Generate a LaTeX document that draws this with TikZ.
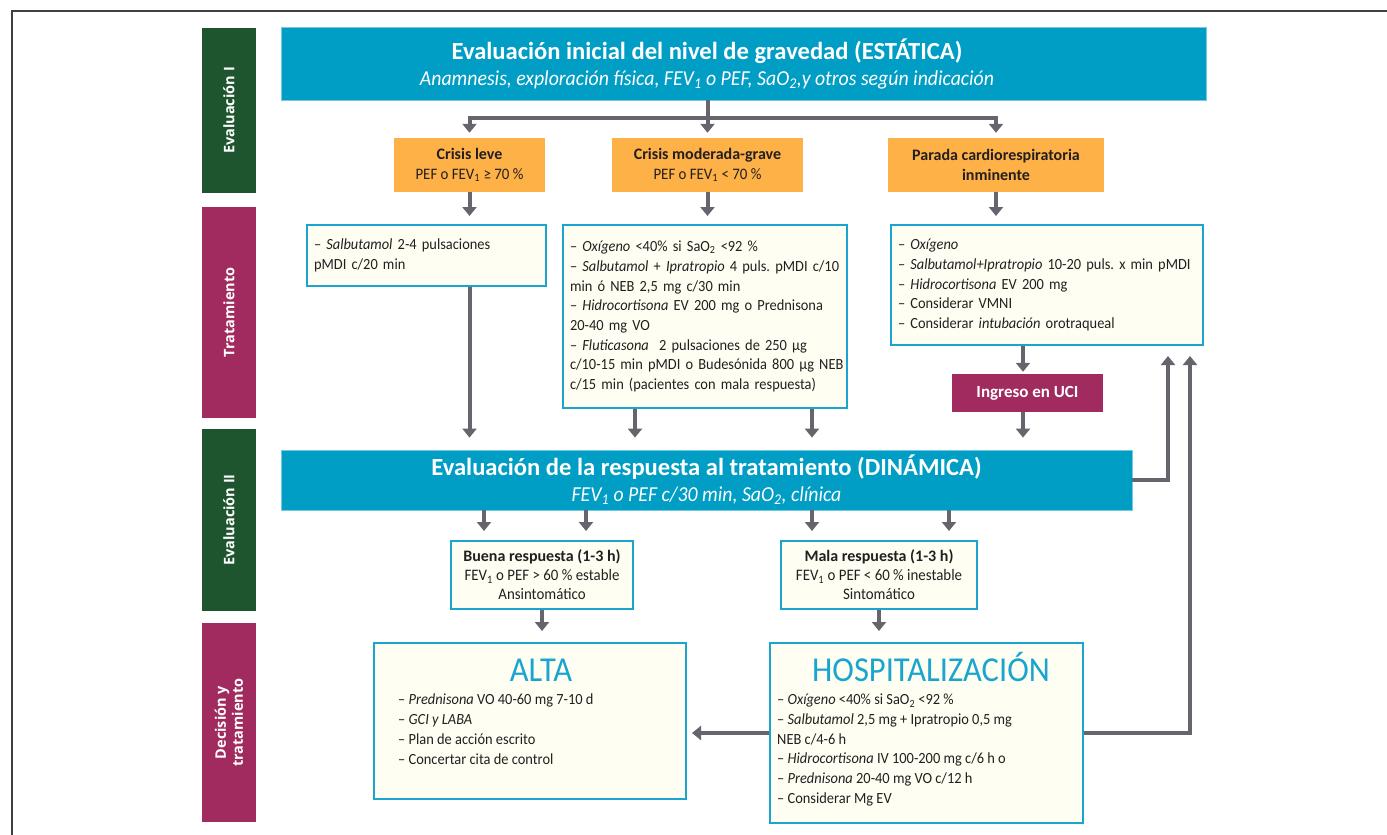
\documentclass[tikz,border=0pt]{standalone}
\usepackage{fontspec}
\setmainfont{Carlito}[FakeStretch=0.93, BoldFeatures={FakeStretch=1.0}]
\newfontfamily\barfont{Open Sans}
\usetikzlibrary{arrows.meta}

\definecolor{evalblue}{HTML}{009DC4}
\definecolor{evalgreen}{HTML}{1F552E}
\definecolor{tratred}{HTML}{A12A5E}
\definecolor{crisisorange}{HTML}{FDB147}
\definecolor{arrowgray}{HTML}{67646E}
\definecolor{boxblue}{HTML}{1AA5D0}
\definecolor{boxfill}{HTML}{FFFEF2}
\definecolor{textoscuro}{HTML}{231F20}

\newcommand{\sub}[1]{\textsubscript{#1}}
\newcommand{\margenlista}{\leftskip=7pt\rightskip=-12pt plus 2em\relax}

\tikzset{
  barra/.style={rectangle, rotate=90, minimum height=54pt, inner sep=0pt, align=center,
    text=white, font=\barfont\bfseries\fontsize{14.5}{17}\selectfont},
  cabecera/.style={rectangle, fill=evalblue, draw=evalblue!55, line width=0.8pt,
    text=white, align=center, inner sep=0pt, font=\itshape\fontsize{21.3}{26}\selectfont},
  crisis/.style={rectangle, fill=crisisorange, align=center, inner sep=0pt, minimum height=54pt,
    font=\fontsize{16}{19.5}\selectfont},
  caja/.style={rectangle, draw=boxblue, fill=boxfill, line width=2pt, inner xsep=7pt},
  cajalista/.style={caja, inner xsep=0pt, align=left, execute at begin node=\margenlista},
  titulo/.style={text=boxblue, font=\fontsize{35}{35}\selectfont, inner sep=0pt, anchor=base},
  lista/.style={align=left, inner sep=0pt},
  linea/.style={draw=arrowgray, line width=4pt},
  flecha/.style={linea, -{Triangle[width=14pt,length=9pt]}},
  marco/.style={draw=black!75, line width=1.5pt},
}

\begin{document}
\frenchspacing
\begin{tikzpicture}[x=1pt, y=-1pt, text=textoscuro, font=\fontsize{15.5}{19.7}\selectfont]
  \useasboundingbox (0,0) rectangle (1387,835);
  % Marco
  \draw[marco] (12,835) -- (12,11) -- (1387,11);
  % Barras laterales
  \node[barra, fill=evalgreen, minimum width=165pt] (ev1) at (229,110.5) {Evaluación I};
  \node[barra, fill=tratred, minimum width=211pt] (trat1) at (229,312.5) {Tratamiento};
  \node[barra, fill=evalgreen, minimum width=182pt] (ev2) at (229,520) {Evaluación II};
  \node[barra, fill=tratred, minimum width=199pt] (dec) at (229,722.5) {Decisión y\\tratamiento};
  % Evaluación inicial
  \node[cabecera, minimum width=925pt, minimum height=73pt] (ini) at (743.5,63.5) {};
  \node[cabecera, draw=none, fill=none] (iniT) at (707,64)
    {{\upshape\bfseries\fontsize{24.6}{26}\selectfont Evaluación inicial del nivel de gravedad (ESTÁTICA)}\\
     Anamnesis, exploración física, FEV\sub{1} o PEF, SaO\sub{2},y otros según indicación};
  % Nivel de gravedad
  \node[crisis, minimum width=151pt] (leve) at (469.5,165) {\textbf{Crisis leve}\\PEF o FEV\sub{1} ≥ 70 \%};
  \node[crisis, minimum width=191pt] (moderada) at (707.5,165) {\textbf{Crisis moderada-grave}\\PEF o FEV\sub{1} < 70 \%};
  \node[crisis, minimum width=216pt] (parada) at (996,165) {\textbf{Parada cardiorespiratoria}\\\textbf{inminente}};
  % Tratamiento
  \node[cajalista, text width=239pt, minimum height=61pt] (t1) at (426.5,255.5)
    {– \textit{Salbutamol} 2-4 pulsaciones\\pMDI c/20 min};
  \node[cajalista, text width=284pt, minimum height=183pt] (t2) at (705,316.5)
    {– \textit{Oxígeno} <40\% si SaO\sub{2} <92 \%\\
     – \textit{Salbutamol} + \textit{Ipratropio} 4 puls. pMDI c/10\\
     min ó NEB 2,5 mg c/30 min\\
     – \textit{Hidrocortisona} EV 200 mg o Prednisona\\
     20-40 mg VO\\
     – \textit{Fluticasona}\ \ 2 pulsaciones de 250 µg\\
     c/10-15 min pMDI o Budesónida 800 µg NEB\\
     c/15 min (pacientes con mala respuesta)};
  \node[cajalista, text width=312pt, minimum height=120pt] (t3) at (1047,285)
    {– \textit{Oxígeno}\\
     – \textit{Salbutamol+Ipratropio} 10-20 puls. x min pMDI\\
     – \textit{Hidrocortisona} EV 200 mg\\
     – Considerar VMNI\\
     – Considerar \textit{intubación} orotraqueal};
  \node[crisis, fill=tratred, text=white, minimum width=151pt, minimum height=38pt,
    font=\fontsize{17}{19}\selectfont] (uci) at (1027.5,393) {\textbf{Ingreso en UCI}};
  % Evaluación de la respuesta
  \node[cabecera, minimum width=851pt, minimum height=60pt] (eval2) at (706.5,480)
    {{\upshape\bfseries\fontsize{24.6}{26}\selectfont Evaluación de la respuesta al tratamiento (DINÁMICA)}\\
     FEV\sub{1} o PEF c/30 min, SaO\sub{2}, clínica};
  \node[caja, minimum width=182pt, minimum height=68pt, align=center, font=\fontsize{16}{19}\selectfont] (buena) at (542,575)
    {\textbf{Buena respuesta (1-3 h)}\\FEV\sub{1} o PEF > 60 \% estable\\Ansintomático};
  \node[caja, minimum width=196pt, minimum height=68pt, align=center, font=\fontsize{16}{19}\selectfont] (mala) at (879,575)
    {\textbf{Mala respuesta (1-3 h)}\\FEV\sub{1} o PEF < 60 \% inestable\\Sintomático};
  % Decisión
  \node[caja, minimum width=312pt, minimum height=156pt] (alta) at (530,721) {};
  \node[titulo] (altaT) at (541,681) {ALTA};
  \node[lista, anchor=north west] (altaL) at (398,694)
    {– \textit{Prednisona} VO 40-60 mg 7-10 d\\
     – \textit{GCI y LABA}\\
     – Plan de acción escrito\\
     – Concertar cita de control};
  \node[caja, minimum width=313pt, minimum height=180pt] (hosp) at (926.5,733) {};
  \node[titulo] (hospT) at (931,681) {HOSPITALIZACIÓN};
  \node[lista, anchor=north west] (hospL) at (777,694)
    {– \textit{Oxígeno} <40\% si SaO\sub{2} <92 \%\\
     – \textit{Salbutamol} 2,5 mg + Ipratropio 0,5 mg\\
     NEB c/4-6 h\\
     – \textit{Hidrocortisona} IV 100-200 mg c/6 h o\\
     – \textit{Prednisona} 20-40 mg VO c/12 h\\
     – Considerar Mg EV};
  % Conectores
  \coordinate (rama) at (707.5,118);
  \draw[linea] (ini.south -| moderada.north) -- (rama);
  \draw[linea, line cap=rect] (leve.north |- rama) -- (parada.north |- rama);
  \foreach \n in {leve,moderada,parada}
    \draw[flecha] (\n.north |- rama) -- ([yshift=5pt]\n.north);
  \draw[flecha, shorten >=8pt] (leve.south) -- (leve.south |- t1.north);
  \draw[flecha, shorten >=8pt] (moderada.south) -- (moderada.south |- t2.north);
  \draw[flecha, shorten >=8pt] (parada.south) -- (parada.south |- t3.north);
  \draw[flecha, shorten >=12pt] (t1.south -| leve.south) -- (leve.south |- eval2.north);
  \draw[flecha, shorten >=12pt] ([xshift=-70pt]t2.south) -- ([xshift=-70pt]t2.south |- eval2.north);
  \draw[flecha, shorten >=12pt] ([xshift=107pt]t2.south) -- ([xshift=107pt]t2.south |- eval2.north);
  \draw[flecha, shorten >=2pt] ([xshift=-24pt]t3.south) -- ([xshift=-24pt]t3.south |- uci.north);
  \draw[flecha, shorten >=12pt] ([xshift=-4.5pt]uci.south) -- ([xshift=-4.5pt]uci.south |- eval2.north);
  \draw[flecha, shorten >=9pt] ([xshift=-58pt]buena.north |- eval2.south) -- ([xshift=-58pt]buena.north);
  \draw[flecha, shorten >=9pt] ([xshift=44pt]buena.north |- eval2.south) -- ([xshift=44pt]buena.north);
  \draw[flecha, shorten >=9pt] ([xshift=-67pt]mala.north |- eval2.south) -- ([xshift=-67pt]mala.north);
  \draw[flecha, shorten >=9pt] ([xshift=70pt]mala.north |- eval2.south) -- ([xshift=70pt]mala.north);
  \draw[flecha, shorten >=11pt] (buena.south) -- (buena.south |- alta.north);
  \draw[flecha, shorten >=11pt] (mala.south) -- (mala.south |- hosp.north);
  \draw[flecha, shorten >=5pt] (hosp.west) -- (hosp.west -| alta.east);
  % Retornos
  \coordinate (retorno1) at (1168,356);
  \coordinate (retorno2) at (1190,356);
  \draw[flecha] (eval2.east) -| (retorno1);
  \draw[flecha] (hosp.east) -| (retorno2);
\end{tikzpicture}
\end{document}
